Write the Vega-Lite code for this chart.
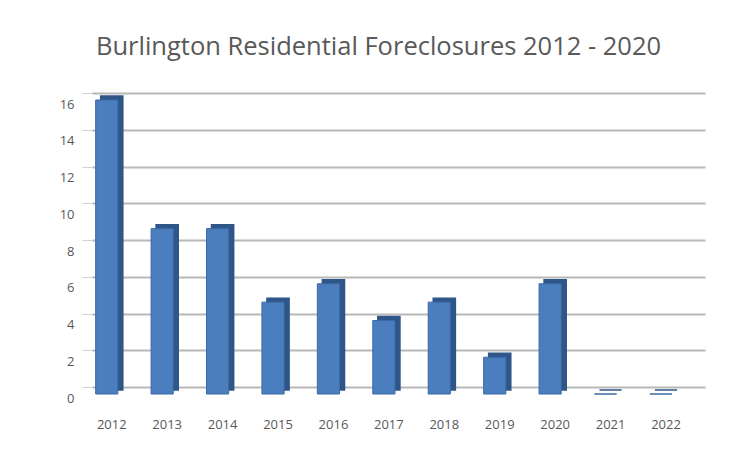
{
  "$schema": "https://vega.github.io/schema/vega-lite/v6.json",
  "width": 613,
  "height": 294,
  "autosize": {"type": "none"},
  "padding": {"left": 92, "top": 93, "right": 30, "bottom": 63},
  "background": "white",
  "title": {
    "text": "Burlington Residential Foreclosures 2012 - 2020",
    "fontSize": 25.5,
    "font": "Open Sans",
    "fontWeight": "normal",
    "color": "#595959",
    "anchor": "middle",
    "dx": -20,
    "offset": 32
  },
  "data": {
    "values": [
      {"year": "2012", "count": 16},
      {"year": "2013", "count": 9},
      {"year": "2014", "count": 9},
      {"year": "2015", "count": 5},
      {"year": "2016", "count": 6},
      {"year": "2017", "count": 4},
      {"year": "2018", "count": 5},
      {"year": "2019", "count": 2},
      {"year": "2020", "count": 6},
      {"year": "2021", "count": 0},
      {"year": "2022", "count": 0}
    ]
  },
  "encoding": {
    "x": {
      "field": "year",
      "type": "ordinal",
      "scale": {"paddingInner": 0.6, "paddingOuter": 0.33, "align": 0.1},
      "axis": {
        "title": null,
        "labelAngle": 0,
        "domain": false,
        "ticks": false,
        "labelFont": "Open Sans",
        "labelFontSize": 13,
        "labelColor": "#595959",
        "labelPadding": 31,
        "labelOffset": 5
      }
    },
    "y": {
      "field": "count",
      "type": "quantitative",
      "scale": {"domain": [0, 16]},
      "axis": {
        "title": null,
        "values": [0, 2, 4, 6, 8, 10, 12, 14, 16],
        "domain": false,
        "ticks": true,
        "tickSize": 10,
        "tickColor": "#d0d0d0",
        "labelFont": "Open Sans",
        "labelFontSize": 13,
        "labelColor": "#595959",
        "labelPadding": 8,
        "labelOffset": 11,
        "gridColor": "#b8b8b8",
        "gridWidth": 2
      }
    }
  },
  "layer": [
    {
      "mark": {"type": "bar", "color": "#2f5688", "xOffset": 5, "yOffset": 3, "stroke": "#2f5688", "strokeWidth": 1.5}
    },
    {
      "mark": {"type": "bar", "color": "#4a7ebf", "yOffset": 7, "stroke": "#3d6aa3", "strokeWidth": 1}
    }
  ],
  "config": {"view": {"stroke": null}}
}
